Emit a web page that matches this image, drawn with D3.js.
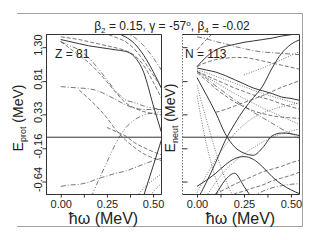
<!DOCTYPE html>
<html>
<head>
<meta charset="utf-8">
<script src="https://cdnjs.cloudflare.com/ajax/libs/d3/7.8.5/d3.min.js"></script>
<style>
  body { margin: 0; background: #fff; }
  svg { display: block; }
  text { font-family: "Liberation Sans", Arial, sans-serif; fill: #222; }
</style>
</head>
<body>
<svg id="chart" width="320" height="240"></svg>
<script>
// rotational frequency grid shared by every routhian (MeV)
const omega = [0, 0.05, 0.10, 0.15, 0.20, 0.25, 0.30, 0.35, 0.40, 0.45, 0.50, 0.55];

// axis ticks
const yTicks = [-0.64, -0.16, 0.33, 0.81, 1.30];
const yTickLabels = ["-0.64", "-0.16", "0.33", "0.81", "1.30"];
const xTicks = [0, 0.125, 0.25, 0.375, 0.5];
const xTickLabels = ["0.00", "", "0.25", "", "0.50"];

// proton routhians, Z = 81 (MeV, null = off the plot)
const pA = [1.41, 1.38, 1.35, 1.32, 1.30, 1.28, 1.26, 1.24, 1.16, 0.93, 0.47, 0.03];
const pB = [1.45, 1.43, 1.41, 1.38, 1.35, 1.32, 1.29, 1.25, 1.18, 1.03, 0.80, 0.54];
const pC = [null, null, null, null, null, 1.57, 1.51, 1.45, 1.35, 1.18, 0.95, 0.68];
const pD = [null, null, null, null, null, null, 1.60, 1.51, 1.44, 1.32, 1.15, 0.95];
const pE = [null, null, null, null, 1.55, 1.49, 1.44, 1.38, 1.27, 1.10, 0.90, 0.70];
const pF = [1.38, 1.28, 1.18, 1.08, 0.95, 0.80, 0.64, 0.50, 0.42, 0.37, 0.34, 0.32];
const pG = [1.38, 1.32, 1.26, 1.15, 1.00, 0.83, 0.66, 0.54, 0.50, 0.45, 0.42, 0.40];
const pH = [0.73, 0.72, 0.71, 0.70, 0.67, 0.61, 0.54, 0.47, 0.42, 0.40, 0.40, 0.40];
const pI = [null, null, -1.20, -0.95, -0.65, -0.36, -0.08, 0.13, 0.25, 0.32, 0.35, 0.37];
const pJ = [null, null, 0.68, 0.56, 0.43, 0.28, 0.10, -0.04, -0.15, -0.24, -0.30, -0.34];
const pK = [-0.71, -0.69, -0.68, -0.65, -0.60, -0.56, -0.52, -0.49, -0.44, -0.39, -0.34, -0.30];
const pL = [null, null, null, null, null, null, null, null, -1.30, -0.84, -0.42, 0.00];
const pM = [null, null, null, null, null, 0.14, 0.08, 0.02, -0.08, -0.15, -0.21, -0.26];
const pN = [null, null, null, null, null, null, null, null, -0.91, -0.73, -0.62, -0.52];
const pO = [null, null, null, null, null, null, null, null, null, -0.98, -0.79, -0.66];

// neutron routhians, N = 113
const nA = [0.86, 0.61, 0.35, 0.05, -0.14, -0.23, -0.26, -0.15, 0.02, 0.06, 0.05, 0.02];
const nB = [-0.91, -0.65, -0.36, -0.05, 0.19, 0.40, 0.57, 0.74, 1.00, 1.21, 1.34, 1.41];
const nC = [1.00, 0.97, 0.94, 0.89, 0.83, 0.77, 0.71, 0.67, 0.63, 0.58, 0.56, 0.53];
const nD = [1.02, 1.16, 1.26, 1.31, 1.34, 1.37, 1.39, 1.41, 1.43, 1.46, 1.48, 1.51];
const nE = [1.26, 1.41, 1.54, null, null, null, null, null, null, null, null, null];
const nF = [1.45, 1.42, 1.38, 1.35, 1.31, 1.28, 1.25, 1.23, 1.22, 1.21, 1.20, 1.19];
const nG = [1.02, 1.08, 1.12, 1.14, 1.15, 1.15, 1.13, 1.10, 1.07, 1.04, 1.01, 0.98];
const nH = [0.95, 0.89, 0.83, 0.77, 0.71, 0.66, 0.61, 0.57, 0.53, 0.48, 0.44, 0.40];
const nI = [0.95, 0.87, 0.79, 0.71, 0.63, 0.56, 0.49, 0.42, 0.36, 0.30, 0.24, 0.18];
const nJ = [0.95, 0.85, 0.74, 0.64, 0.54, 0.45, 0.36, 0.28, 0.20, 0.12, 0.05, -0.02];
const nK = [0.97, 0.93, 0.88, 0.83, 0.78, 0.73, 0.68, 0.63, 0.59, 0.55, 0.51, 0.47];
const nL = [0.93, 0.82, 0.70, 0.60, 0.51, 0.44, 0.38, 0.34, 0.31, 0.29, 0.28, 0.27];
const nM = [0.75, 0.25, -0.21, -0.60, -0.90, null, null, null, null, null, null, null];
const nN = [0.60, -0.10, -0.60, -0.95, null, null, null, null, null, null, null, null];
const nO = [null, -0.95, -0.82, -0.75, -0.68, -0.62, -0.56, -0.50, -0.46, -0.42, -0.37, -0.33];
const nP = [null, null, null, -0.95, -0.82, -0.78, -0.73, -0.69, -0.63, -0.59, -0.55, -0.50];
const nQ = [null, -0.85, -0.65, -0.48, -0.35, -0.24, -0.15, -0.07, 0.00, 0.05, 0.09, 0.12];
const nR = [-0.80, -0.55, -0.32, -0.12, 0.05, 0.18, 0.28, 0.35, 0.40, 0.44, 0.47, 0.50];
const nS = [-0.71, -0.62, -0.52, -0.40, -0.31, -0.28, -0.32, -0.43, -0.57, -0.68, -0.76, -0.82];
const nT = [null, -0.98, -0.82, -0.62, -0.52, -0.71, -0.91, null, null, null, null, null];
const nU = [null, null, 0.36, 0.40, 0.45, 0.50, 0.55, 0.60, 0.66, 0.72, 0.77, 0.82];
const nV = [null, null, null, null, null, 0.90, 0.95, 1.00, 1.06, 1.12, 1.18, 1.24];
const nW = [null, null, null, null, null, -0.95, -0.85, -0.78, -0.73, -0.70, -0.68, -0.67];

// line styles
const dashes = {
  solid: null,
  dash: "4,2",
  dot: "1,1.5",
  dashdot: "5,2,1,2",
  dashdotdot: "5,2,1,2,1,2"
};

const protCurves = [
  [pA, "solid"], [pB, "dash"], [pC, "solid"], [pD, "dashdot"], [pE, "dash"],
  [pF, "dash"], [pG, "dashdotdot"], [pH, "dashdot"], [pI, "dashdotdot"], [pJ, "dash"],
  [pK, "dashdot"], [pL, "solid"], [pM, "dash"], [pN, "dot"], [pO, "dot"]
];
const neutCurves = [
  [nA, "solid"], [nB, "solid"], [nC, "solid"], [nD, "solid"], [nE, "dash"],
  [nF, "dashdot"], [nG, "dash"], [nH, "dash"], [nI, "dot"], [nJ, "dashdot"],
  [nK, "dot"], [nL, "dash"], [nM, "dot"], [nN, "dot"], [nO, "dash"],
  [nP, "dash"], [nQ, "dot"], [nR, "dot"], [nS, "solid"], [nT, "solid"],
  [nU, "dash"], [nV, "dot"], [nW, "dashdot"]
];

const svg = d3.select("#chart");
const yTop = 34, yBottom = 194;

const y = d3.scaleLinear().domain([-0.82, 1.49]).range([yBottom, yTop]);

// outer light frame (open on the left)
svg.append("path")
  .attr("d", "M17,13.5H302.5V226.5H17")
  .attr("fill", "none")
  .attr("stroke", "#a0a0a0")
  .attr("stroke-width", 1);

// title
svg.append("text")
  .attr("x", 172)
  .attr("y", 30)
  .attr("text-anchor", "middle")
  .style("font-size", "12px")
  .html('β<tspan font-size="8" dy="3">2</tspan><tspan dy="-3"> = 0.15, γ = -57</tspan><tspan font-size="8" dy="-4">o</tspan><tspan dy="4">, β</tspan><tspan font-size="8" dy="3">4</tspan><tspan dy="-3"> = -0.02</tspan>');

const panels = [
  { id: "prot", x0: 46, x1: 161, curves: protCurves, tag: "Z = 81", tagX: 55, sub: "prot", labX: 23, yLabels: true },
  { id: "neut", x0: 182, x1: 299, curves: neutCurves, tag: "N = 113", tagX: 185, sub: "neut", labX: 175, yLabels: false }
];

panels.forEach(p => {
  const x = d3.scaleLinear().domain([-0.08, 0.543]).range([p.x0, p.x1]);
  const g = svg.append("g");

  g.append("clipPath").attr("id", "clip-" + p.id)
    .append("rect")
    .attr("x", p.x0).attr("y", yTop)
    .attr("width", p.x1 - p.x0).attr("height", yBottom - yTop);

  const line = d3.line()
    .defined(d => d[1] != null)
    .x(d => x(d[0]))
    .y(d => y(d[1]))
    .curve(d3.curveMonotoneX);

  const curves = g.append("g").attr("clip-path", `url(#clip-${p.id})`);
  p.curves.forEach(([vals, style]) => {
    curves.append("path")
      .datum(omega.map((w, i) => [w, vals[i]]))
      .attr("d", line)
      .attr("fill", "none")
      .attr("stroke", style === "solid" ? "#2a2a2a" : "#4a4a4a")
      .attr("stroke-width", style === "solid" ? 0.95 : 0.75)
      .attr("stroke-dasharray", dashes[style]);
  });

  // zero line
  g.append("line")
    .attr("x1", p.x0).attr("x2", p.x1)
    .attr("y1", y(0)).attr("y2", y(0))
    .attr("stroke", "#333");

  // panel border
  g.append("path")
    .attr("d", `M${p.x0 + 0.5},${yTop + 0.5}H${p.x1 + 0.5}V${yBottom + 0.5}H${p.x0 + 0.5}`)
    .attr("fill", "none")
    .attr("stroke", "#333");
  g.append("line")
    .attr("x1", p.x0 + 0.5).attr("x2", p.x0 + 0.5)
    .attr("y1", yTop).attr("y2", yBottom + 1)
    .attr("stroke", p.yLabels ? "#333" : "#777")
    .attr("stroke-dasharray", p.yLabels ? null : "1.5,1.5");

  // x axis
  const xAxis = g.append("g")
    .attr("transform", `translate(0,${yBottom + 0.5})`)
    .call(d3.axisBottom(x).tickValues(xTicks).tickSize(3).tickFormat((d, i) => xTickLabels[i]));
  xAxis.select(".domain").remove();
  xAxis.selectAll("line").attr("stroke", "#333");
  xAxis.selectAll("text")
    .attr("y", 6)
    .style("font-size", "11px")
    .style("font-family", '"Liberation Sans", Arial, sans-serif')
    .attr("fill", "#222");

  // y axis ticks
  const yAxis = g.append("g")
    .attr("transform", `translate(${p.x0 + 0.5},0)`)
    .call(p.yLabels
      ? d3.axisLeft(y).tickValues(yTicks).tickSize(4).tickFormat("")
      : d3.axisRight(y).tickValues(yTicks).tickSize(5).tickFormat(""));
  yAxis.select(".domain").remove();
  yAxis.selectAll("line").attr("stroke", "#333");

  if (p.yLabels) {
    g.selectAll(".ylab")
      .data(yTicks)
      .enter().append("text")
      .attr("transform", d => `translate(42,${y(d) - 2}) rotate(-90)`)
      .attr("text-anchor", "middle")
      .style("font-size", "11px")
      .text((d, i) => yTickLabels[i]);
  }

  // axis titles
  g.append("text")
    .attr("x", (p.x0 + p.x1) / 2)
    .attr("y", 224)
    .attr("text-anchor", "middle")
    .style("font-size", "16px")
    .text("ħω (MeV)");

  g.append("text")
    .attr("transform", `translate(${p.labX},118) rotate(-90)`)
    .attr("text-anchor", "middle")
    .style("font-size", "14px")
    .html(`E<tspan font-size="9" dy="3">${p.sub}</tspan><tspan dy="-3"> (MeV)</tspan>`);

  // nucleus tag
  g.append("text")
    .attr("x", p.tagX)
    .attr("y", 58)
    .style("font-size", "12px")
    .text(p.tag);
});
</script>
</body>
</html>
